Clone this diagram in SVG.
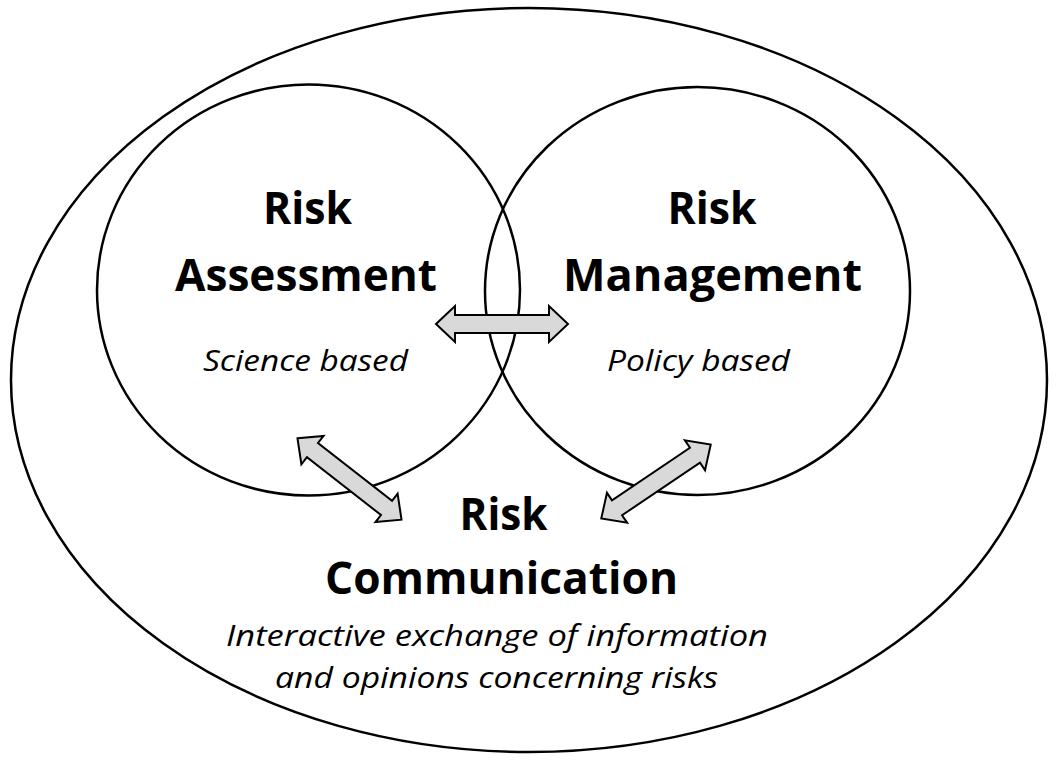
<svg xmlns="http://www.w3.org/2000/svg" xmlns:xlink="http://www.w3.org/1999/xlink" width="1063" height="760" viewBox="0 0 1063 760">
<style>
.ring{fill:none;stroke:#000;stroke-width:2.5}
.title{font-family:"Open Sans","Liberation Sans",sans-serif;font-weight:bold;font-size:44px;fill:#000;text-anchor:middle}
.sub{font-family:"Open Sans","Liberation Sans",sans-serif;font-style:italic;font-size:30px;fill:#000;text-anchor:middle}
.arrow{fill:#d9d9d9;stroke:#000;stroke-width:2;stroke-linejoin:miter}
</style>
<defs>
<polygon id="dbl" points="-66,0 -47,-18 -47,-9 47,-9 47,-18 66,0 47,18 47,9 -47,9 -47,18"/>
</defs>
<rect width="1063" height="760" fill="#fff"/>
<g id="risk-communication">
<ellipse class="ring" cx="529" cy="380" rx="518" ry="372"/>
<text class="title" x="503.5" y="530" textLength="88" lengthAdjust="spacingAndGlyphs">Risk</text>
<text class="title" x="501.5" y="594" textLength="353" lengthAdjust="spacingAndGlyphs">Communication</text>
<text class="sub" x="497" y="646" textLength="542" lengthAdjust="spacingAndGlyphs">Interactive exchange of information</text>
<text class="sub" x="496.5" y="688" textLength="443" lengthAdjust="spacingAndGlyphs">and opinions concerning risks</text>
</g>
<g id="risk-assessment">
<ellipse class="ring" cx="308.5" cy="290" rx="211.5" ry="205.5"/>
<text class="title" x="307.5" y="224" textLength="89" lengthAdjust="spacingAndGlyphs">Risk</text>
<text class="title" x="306" y="291" textLength="262" lengthAdjust="spacingAndGlyphs">Assessment</text>
<text class="sub" x="305.5" y="371" textLength="205" lengthAdjust="spacingAndGlyphs">Science based</text>
</g>
<g id="risk-management">
<ellipse class="ring" cx="697.5" cy="291" rx="212.5" ry="204"/>
<text class="title" x="712" y="224" textLength="89" lengthAdjust="spacingAndGlyphs">Risk</text>
<text class="title" x="712.5" y="291" textLength="299" lengthAdjust="spacingAndGlyphs">Management</text>
<text class="sub" x="698.5" y="371" textLength="183" lengthAdjust="spacingAndGlyphs">Policy based</text>
</g>
<g id="connectors">
<use xlink:href="#dbl" href="#dbl" class="arrow" transform="translate(502,324)"/>
<use xlink:href="#dbl" href="#dbl" class="arrow" transform="translate(349.5,479) rotate(38)"/>
<use xlink:href="#dbl" href="#dbl" class="arrow" transform="translate(656,481.5) rotate(-34)"/>
</g>
</svg>
